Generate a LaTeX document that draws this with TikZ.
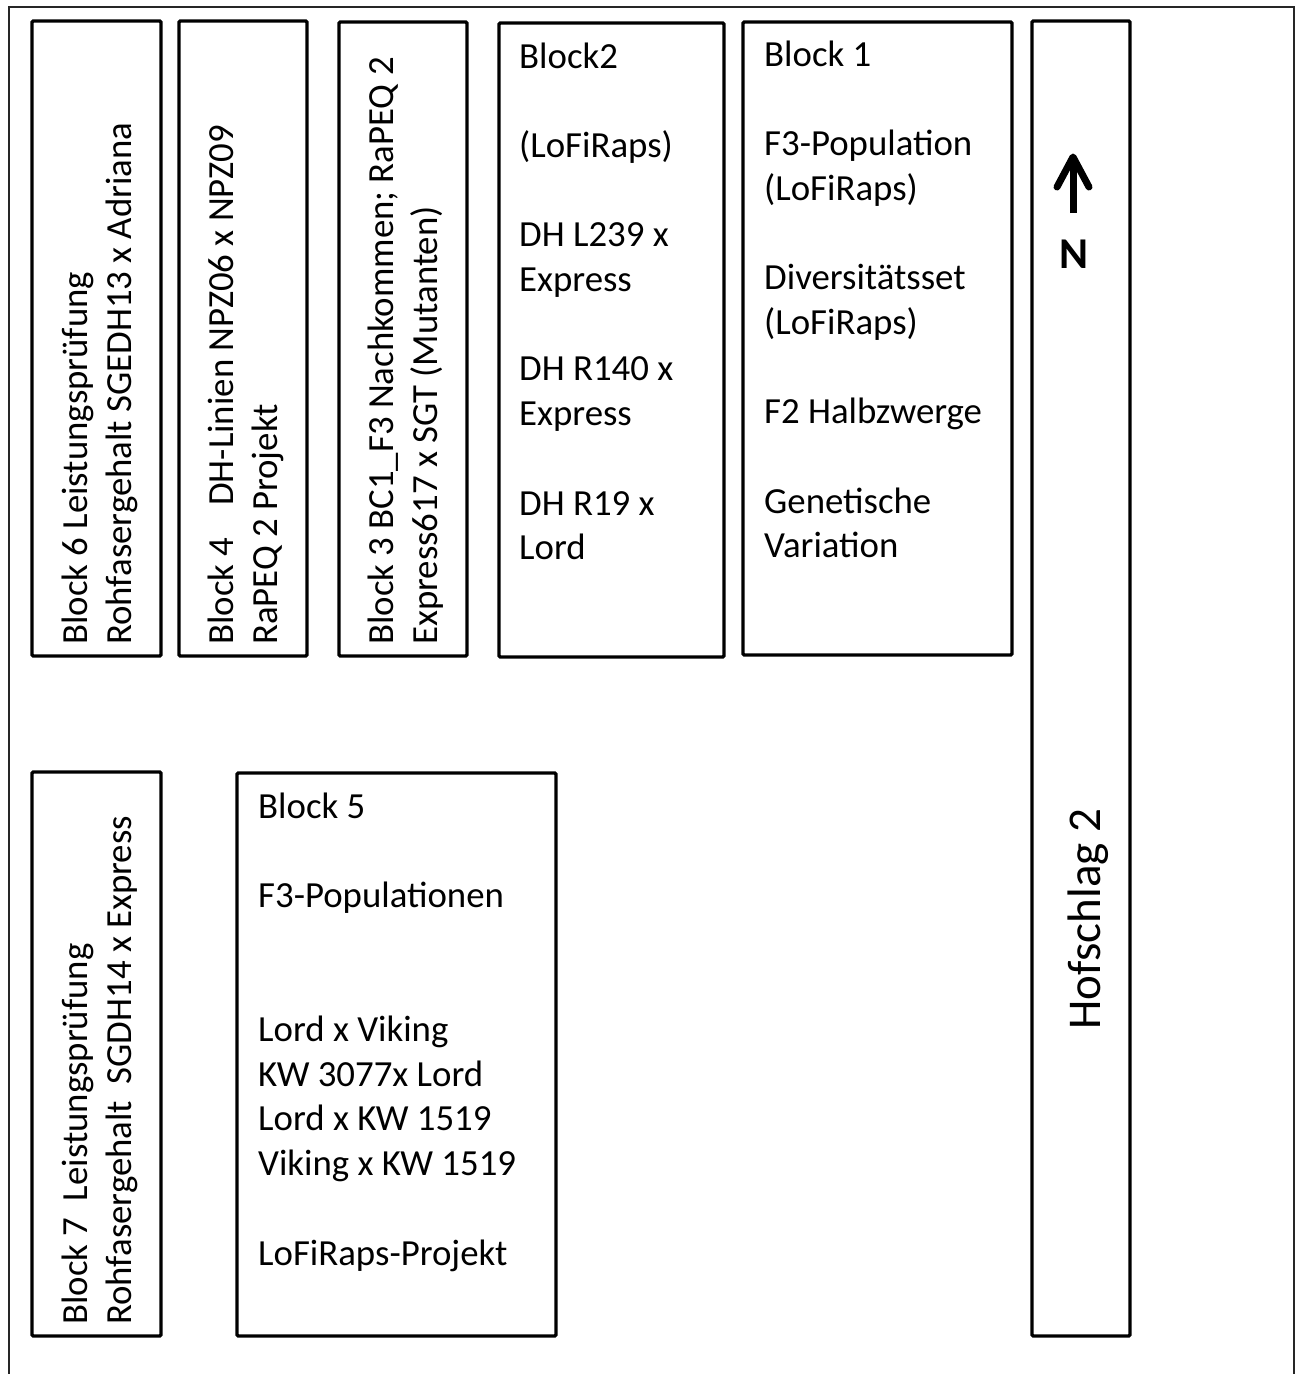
\documentclass[tikz,border=0pt]{standalone}
\usepackage{fontspec}
\setmainfont{Carlito}
\usetikzlibrary{calc}
\tikzset{
  boxline/.style={line width=3.3pt, rounded corners=1.2pt},
  framel/.style={line width=1.4pt, draw=black!85},
  hortext/.style={anchor=base west, inner sep=0pt, font=\fontsize{36.8}{44.7}\selectfont},
  rottext/.style={anchor=base west, inner sep=0pt, rotate=90, font=\fontsize{36.8}{44.7}\selectfont},
}
\newcommand\mlines[1]{\vtop{\baselineskip=44.7pt\lineskiplimit=-100pt\lineskip=0pt #1}}
\begin{document}
\begin{tikzpicture}[x=1pt,y=-1pt]
\useasboundingbox (0,0) rectangle (1300,1374);
% outer frame (open at the bottom)
\draw[framel] (9,1380) -- (9,7) -- (1294,7) -- (1294,1380);
% boxes
\draw[boxline] (32,21) rectangle (161,656);
\draw[boxline] (179,21) rectangle (307,656);
\draw[boxline] (339,22) rectangle (467,656);
\draw[boxline] (499,23) rectangle (724,657);
\draw[boxline] (743,22) rectangle (1012,655);
\draw[boxline] (1032,21) rectangle (1130,1336);
\draw[boxline] (32,772) rectangle (161,1336);
\draw[boxline] (237,773) rectangle (556,1336);
% vertical texts
\node[rottext] (b6) at (87,645) {\mlines{\hbox{Block 6 Leistungsprüfung}\hbox{Rohfasergehalt SGEDH13 x Adriana}}};
\node[rottext] (b4) at (233,645) {\mlines{\hbox{Block 4\hspace{32pt}DH-Linien NPZ06 x NPZ09}\hbox{RaPEQ 2 Projekt}}};
\node[rottext] (b3) at (393,645) {\mlines{\hbox{Block 3 BC1\_F3 Nachkommen; RaPEQ 2}\hbox{Express617 x SGT (Mutanten)}}};
\node[rottext] (b7) at (87,1325) {\mlines{\hbox{Block 7\ \ Leistungsprüfung}\hbox{Rohfasergehalt\ \ SGDH14 x Express}}};
% horizontal texts
\node[hortext] (b2) at (519,68) {\mlines{\hbox{Block2}\hbox{}\hbox{(LoFiRaps)}\hbox{}\hbox{DH L239 x}\hbox{Express}\hbox{}\hbox{DH R140 x}\hbox{Express}\hbox{}\hbox{DH R19 x}\hbox{Lord}}};
\node[hortext] (b1) at (764,66) {\mlines{\hbox{Block 1}\hbox{}\hbox{F3-Population}\hbox{(LoFiRaps)}\hbox{}\hbox{Diversitätsset}\hbox{(LoFiRaps)}\hbox{}\hbox{F2 Halbzwerge}\hbox{}\hbox{Genetische}\hbox{Variation}}};
\node[hortext] (b5) at (258,818) {\mlines{\hbox{Block 5}\hbox{}\hbox{F3-Populationen}\hbox{}\hbox{}\hbox{Lord x Viking}\hbox{KW 3077x Lord}\hbox{Lord x KW 1519}\hbox{Viking x KW 1519}\hbox{}\hbox{LoFiRaps-Projekt}}};
% Hofschlag
\node[anchor=base, inner sep=0pt, rotate=90, font=\fontsize{47}{56}\selectfont] (hof) at (1100,919) {Hofschlag 2};
% north arrow
\coordinate (arrbase) at (1073,213);
\coordinate (arrtip) at (1073,157);
\draw[line width=7pt] (arrbase) -- (arrtip);
\draw[line width=7pt, line cap=round, line join=round] ($(arrtip)+(-16,30)$) -- (arrtip) -- ($(arrtip)+(16,30)$);
\node[anchor=base, inner sep=0pt, font=\bfseries\fontsize{44}{44}\selectfont] (north) at (1074,268) {N};
\end{tikzpicture}
\end{document}
